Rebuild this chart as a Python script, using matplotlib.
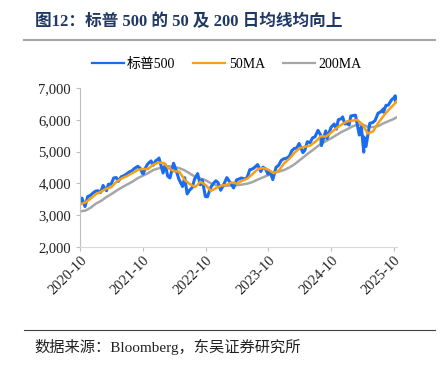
import pandas as pd
import matplotlib
matplotlib.use("Agg")
import matplotlib.pyplot as plt
from matplotlib.ticker import FuncFormatter
from matplotlib.lines import Line2D

plt.rcParams['font.family'] = ['Liberation Serif', 'Noto Sans CJK SC', 'DejaVu Sans']

# S&P 500 close (approx.)
spx_dates = ['2020-10-01', '2020-10-12', '2020-10-30', '2020-11-15', '2020-11-30', '2020-12-15',
             '2020-12-31', '2021-01-15', '2021-01-29', '2021-02-12', '2021-02-26', '2021-03-04',
             '2021-03-15', '2021-03-31', '2021-04-15', '2021-04-30', '2021-05-12', '2021-05-28',
             '2021-06-15', '2021-06-30', '2021-07-15', '2021-07-30', '2021-08-16', '2021-08-31',
             '2021-09-02', '2021-09-15', '2021-09-30', '2021-10-04', '2021-10-15', '2021-10-29',
             '2021-11-18', '2021-11-30', '2021-12-15', '2021-12-31', '2022-01-03', '2022-01-27',
             '2022-02-09', '2022-02-23', '2022-03-08', '2022-03-29', '2022-04-14', '2022-04-29',
             '2022-05-20', '2022-06-02', '2022-06-16', '2022-06-30', '2022-07-15', '2022-07-29',
             '2022-08-16', '2022-08-31', '2022-09-12', '2022-09-30', '2022-10-12', '2022-10-31',
             '2022-11-15', '2022-11-30', '2022-12-13', '2022-12-28', '2023-01-17', '2023-02-02',
             '2023-02-28', '2023-03-13', '2023-03-31', '2023-04-14', '2023-04-28', '2023-05-15',
             '2023-05-31', '2023-06-15', '2023-06-30', '2023-07-14', '2023-07-31', '2023-08-18',
             '2023-08-31', '2023-09-15', '2023-09-29', '2023-10-11', '2023-10-27', '2023-11-15',
             '2023-11-30', '2023-12-15', '2023-12-29', '2024-01-12', '2024-01-31', '2024-02-15',
             '2024-02-29', '2024-03-15', '2024-03-28', '2024-04-19', '2024-04-30', '2024-05-15',
             '2024-05-31', '2024-06-14', '2024-06-28', '2024-07-16', '2024-07-31', '2024-08-05',
             '2024-08-30', '2024-09-06', '2024-09-30', '2024-10-18', '2024-10-31', '2024-11-11',
             '2024-11-29', '2024-12-06', '2024-12-19', '2024-12-31', '2025-01-13', '2025-01-23',
             '2025-02-19', '2025-03-13', '2025-03-25', '2025-04-08', '2025-04-09', '2025-04-21',
             '2025-05-13', '2025-05-30', '2025-06-13', '2025-06-30', '2025-07-15', '2025-07-31',
             '2025-08-01', '2025-08-15', '2025-08-29', '2025-09-15', '2025-09-30', '2025-10-08',
             '2025-10-10', '2025-10-15']
spx_close = [3380, 3535, 3270, 3585, 3620, 3694,
             3756, 3768, 3714, 3934, 3811, 3768,
             3969, 3973, 4170, 4181, 4063, 4204,
             4246, 4298, 4360, 4395, 4479, 4523,
             4537, 4480, 4308, 4300, 4471, 4605,
             4705, 4567, 4709, 4766, 4796, 4326,
             4587, 4225, 4170, 4631, 4392, 4132,
             3901, 4176, 3667, 3785, 3863, 4130,
             4305, 3955, 4110, 3586, 3577, 3872,
             3992, 4080, 4020, 3783, 3990, 4180,
             3970, 3855, 4109, 4137, 4169, 4136,
             4180, 4426, 4450, 4505, 4589, 4370,
             4508, 4450, 4288, 4377, 4117, 4502,
             4568, 4719, 4770, 4784, 4846, 5030,
             5096, 5117, 5254, 4967, 5036, 5308,
             5278, 5431, 5460, 5667, 5522, 5186,
             5648, 5408, 5762, 5865, 5705, 6001,
             6032, 6090, 5867, 5882, 5836, 6119,
             6144, 5521, 5777, 4982, 5457, 5158,
             5886, 5912, 5977, 6205, 6244, 6339,
             6238, 6450, 6460, 6615, 6688, 6753,
             6553, 6700]

ma_dates = pd.date_range('2020-10-01', '2025-10-01', freq='MS').strftime('%Y-%m-%d').tolist() + ['2025-10-15']

ma50 = [3340, 3400, 3520, 3660, 3740, 3830, 3880, 4050, 4160, 4230, 4320, 4420,
        4450, 4450, 4590, 4650, 4640, 4470, 4380, 4370, 4110, 3980, 3880, 4050,
        3950, 3760, 3850, 3930, 3950, 4030, 3990, 4080, 4150, 4290, 4450, 4480,
        4430, 4320, 4400, 4630, 4780, 4960, 5110, 5150, 5190, 5310, 5480, 5470,
        5600, 5740, 5850, 5950, 5970, 6000, 5850, 5570, 5630, 5900, 6120, 6320,
        6480, 6580]

ma200 = [3120, 3140, 3230, 3360, 3450, 3560, 3660, 3770, 3870, 3960, 4050, 4160,
         4240, 4320, 4420, 4470, 4520, 4540, 4510, 4480, 4410, 4310, 4210, 4150,
         4100, 4000, 3940, 3910, 3920, 3940, 3940, 3960, 3990, 4040, 4120, 4190,
         4260, 4320, 4370, 4420, 4500, 4600, 4730, 4860, 4990, 5110, 5240, 5330,
         5420, 5520, 5620, 5700, 5790, 5840, 5850, 5780, 5770, 5800, 5890, 5960,
         6030, 6070]

tick_labels = ['2020-10', '2021-10', '2022-10', '2023-10', '2024-10', '2025-10']

fig = plt.figure(figsize=(4.47, 3.68), dpi=100)
ax = fig.add_axes([0.179, 0.329, 0.709, 0.432])

ax.plot(pd.to_datetime(ma_dates), ma200, color='#a6a6a6', lw=1.8)
ax.plot(pd.to_datetime(spx_dates), spx_close, color='#1a6cf0', lw=2.2)
ax.plot(pd.to_datetime(ma_dates), ma50, color='#f5a015', lw=1.8)

ax.set_ylim(2000, 7000)
ax.set_yticks(range(2000, 7001, 1000))
ax.yaxis.set_major_formatter(FuncFormatter(lambda v, p: f'{int(v):,}'))
ax.set_xlim(pd.Timestamp('2020-10-01'), pd.Timestamp('2025-10-18'))
ax.set_xticks(pd.to_datetime([t + '-01' for t in tick_labels]))
ax.set_xticklabels(tick_labels, rotation=45, ha='right', rotation_mode='anchor')

for s in ['top', 'right']:
    ax.spines[s].set_visible(False)
ax.spines['left'].set_color('#bfbfbf')
ax.spines['bottom'].set_color('#d9d9d9')
ax.tick_params(axis='both', colors='#bfbfbf', labelcolor='#222222', labelsize=10.5, length=3)
ax.tick_params(axis='x', pad=2)

handles = [Line2D([], [], color='#1a6cf0', lw=1.6), Line2D([], [], color='#f5a015', lw=1.6),
           Line2D([], [], color='#a6a6a6', lw=1.6)]
fig.legend(handles, ['标普500', '50MA', '200MA'], loc='center', bbox_to_anchor=(0.507, 0.826),
           ncol=3, frameon=False, fontsize=10, handlelength=2.3, columnspacing=1.3, handletextpad=0.25)

fig.text(0.078, 0.94, '图12：标普 500 的 50 及 200 日均线均向上', fontsize=12, fontweight='bold',
         color='#1f3864', va='center', family=['Liberation Serif', 'Noto Sans CJK SC'])
fig.add_artist(Line2D([0.054, 0.973], [0.891, 0.891], color='#a6a6a6', lw=1.5))
fig.add_artist(Line2D([0.054, 0.973], [0.103, 0.103], color='#404040', lw=0.8))
fig.text(0.078, 0.057, '数据来源：Bloomberg，东吴证券研究所', fontsize=11, color='#222222', va='center')

fig.savefig('out.png', dpi=100)
